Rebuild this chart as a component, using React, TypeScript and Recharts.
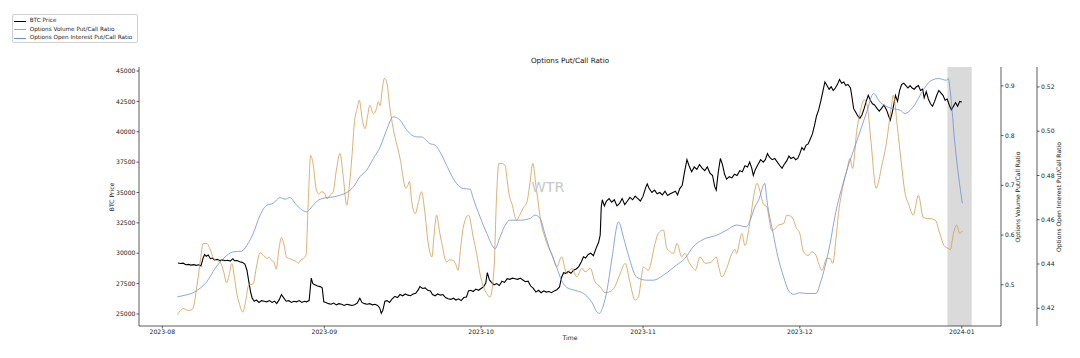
import React from "react";
import { ComposedChart, Line, XAxis, YAxis, ReferenceArea } from "recharts";

// x positions are days after 2023-08-01
const START = Date.UTC(2023, 7, 1);
const DAY = 86400000;

const monthTicks = ["2023-08", "2023-09", "2023-10", "2023-11", "2023-12", "2024-01"];
const monthDays = [0, 31, 61, 92, 122, 153];

const btcTicks = [25000, 27500, 30000, 32500, 35000, 37500, 40000, 42500, 45000];
const volTicks = [0.5, 0.6, 0.7, 0.8, 0.9];
const oiTicks = [0.42, 0.44, 0.46, 0.48, 0.5, 0.52];

const shadeDays = [150.24, 154.9];

const btcDay = [
  3.0, 3.5, 4.0, 4.5, 5.0, 5.5, 6.0, 6.5, 7.0, 7.4, 7.8, 8.1, 8.4, 8.8, 9.2, 9.6, 10.0, 10.5, 11.0, 11.5,
  12.0, 12.5, 13.0, 13.5, 13.8, 14.3, 14.8, 15.3, 15.8, 16.2, 16.5, 16.9, 17.2, 17.6, 18.0, 18.5, 19.0, 19.5,
  20.0, 20.5, 21.0, 21.5, 21.9, 22.4, 22.8, 23.2, 23.7, 24.2, 24.7, 25.2, 25.7, 26.2, 26.7, 27.2, 27.6, 28.1,
  28.5, 28.8, 29.2, 29.7, 30.2, 30.6, 30.9, 31.3, 31.8, 32.3, 32.8, 33.3, 33.8, 34.3, 34.8, 35.3, 35.8, 36.3,
  36.8, 37.3, 37.8, 38.2, 38.7, 39.2, 39.7, 40.2, 40.7, 41.2, 41.6, 41.9, 42.2, 42.6, 43.0, 43.5, 44.0, 44.5,
  45.0, 45.5, 46.0, 46.5, 47.0, 47.5, 48.0, 48.5, 49.0, 49.3, 49.8, 50.3, 50.8, 51.3, 51.7, 52.2, 52.7, 53.2,
  53.7, 54.2, 54.7, 55.2, 55.7, 56.2, 56.7, 57.2, 57.7, 58.2, 58.6, 59.0, 59.5, 60.0, 60.5, 61.0, 61.5, 61.9,
  62.2, 62.6, 63.0, 63.5, 64.0, 64.5, 65.0, 65.5, 66.0, 66.5, 67.0, 67.5, 68.0, 68.5, 69.0, 69.5, 70.0, 70.5,
  71.0, 71.5, 72.0, 72.5, 73.0, 73.5, 74.0, 74.5, 75.0, 75.5, 76.0, 76.4, 76.8, 77.2, 77.7, 78.2, 78.7, 79.2,
  79.7, 80.2, 80.6, 81.0, 81.5, 82.0, 82.5, 83.0, 83.5, 83.8, 84.0, 84.2, 84.6, 85.0, 85.5, 86.0, 86.5, 87.0,
  87.5, 88.0, 88.5, 89.0, 89.5, 90.0, 90.5, 91.0, 91.5, 92.0, 92.5, 92.8, 93.2, 93.7, 94.2, 94.7, 95.2, 95.7,
  96.2, 96.7, 97.2, 97.7, 98.2, 98.6, 99.0, 99.5, 99.9, 100.4, 100.8, 101.3, 101.8, 102.3, 102.8, 103.3, 103.8,
  104.3, 104.8, 105.3, 105.7, 106.0, 106.4, 106.8, 107.2, 107.6, 108.0, 108.5, 109.0, 109.5, 110.0, 110.5,
  111.0, 111.5, 112.0, 112.4, 112.8, 113.1, 113.5, 114.0, 114.5, 115.0, 115.4, 115.8, 116.2, 116.7, 117.2,
  117.7, 118.2, 118.6, 119.0, 119.5, 119.9, 120.3, 120.8, 121.2, 121.6, 122.0, 122.4, 122.8, 123.2, 123.6,
  124.0, 124.4, 124.8, 125.2, 125.6, 126.0, 126.4, 126.8, 127.2, 127.6, 128.0, 128.4, 128.8, 129.2, 129.6,
  130.0, 130.4, 130.8, 131.2, 131.7, 132.0, 132.3, 132.7, 133.1, 133.5, 133.9, 134.3, 134.7, 135.1, 135.5,
  135.9, 136.3, 136.8, 137.2, 137.6, 138.1, 138.6, 139.0, 139.3, 139.7, 140.0, 140.3, 140.7, 141.1, 141.5,
  141.9, 142.3, 142.7, 143.1, 143.5, 143.9, 144.3, 144.7, 145.1, 145.5, 145.8, 146.2, 146.6, 147.0, 147.4,
  147.8, 148.2, 148.6, 149.0, 149.4, 149.8, 150.2, 150.6, 151.0, 151.4, 151.8, 152.2, 152.6, 153.0,
];
const btcPrice = [
  29200, 29150, 29180, 29050, 29080, 29020, 29060, 29000, 29050, 28950, 29600, 29900, 29750, 29850, 29550, 29600, 29450, 29500, 29400, 29450,
  29380, 29420, 29350, 29550, 29380, 29400, 29300, 29250, 29100, 28600, 27800, 26800, 26300, 26050, 26150, 25950, 26100, 26050,
  26000, 26100, 25950, 26050, 25850, 26200, 26600, 26350, 26050, 26100, 25950, 26050, 26000, 26100, 25950, 26050, 26000, 26100,
  27950, 27500, 27400, 27300, 27250, 27150, 26000, 25950, 25850, 25800, 25900, 25750, 25850, 25800, 25700, 25800, 25750, 25700,
  25750, 25900, 26300, 25950, 25850, 25800, 25850, 25750, 25800, 25700, 25500, 25050, 25300, 26050, 26100, 25950, 26250, 26450,
  26350, 26600, 26500, 26650, 26550, 26500, 26650, 26700, 27000, 27250, 27100, 27150, 26950, 26900, 26600, 26500, 26650, 26550,
  26600, 26350, 26250, 26200, 26300, 26150, 26250, 26100, 26350, 26400, 26900, 26950, 26850, 27050, 26950, 27100, 27250, 27550,
  28400, 27800, 27600, 27400, 27500, 27350, 27700, 27600, 27900, 27850, 27950, 27900, 27850, 27950, 27800, 27650, 27700, 27300,
  27100, 26800, 26950, 26750, 26900, 26800, 26850, 26750, 26900, 27000, 27200, 28000, 28400, 28350, 28500, 28350, 28600, 28700,
  28900, 29300, 29700, 29600, 29900, 30000, 29800, 30400, 30900, 31500, 33800, 34400, 33900, 34300, 34500, 34200, 34400, 33900,
  34100, 34500, 34000, 34300, 34600, 34400, 34700, 34500, 34300, 34700, 35400, 35700, 35300, 35000, 35200, 34900, 35000, 34800,
  35100, 34750, 34900, 35000, 35100, 34800, 35300, 35600, 36600, 37700, 37200, 36700, 37100, 36900, 37300, 37000, 36800,
  37100, 36600, 36400, 35500, 35200, 36700, 37800, 37300, 36500, 36100, 36300, 36200, 36500, 36400, 36800,
  36700, 37200, 37100, 37500, 37000, 36400, 36900, 37300, 37700, 37500, 37700, 38200, 37900, 37700, 37800,
  37500, 37200, 37000, 37300, 37600, 38000, 37800, 37900, 37700, 37800, 38200, 38700, 38500, 38900, 39000,
  39400, 39800, 40500, 41300, 41800, 42500, 43300, 44100, 43800, 43500, 43700, 43400, 43600, 43900, 44300,
  44000, 44100, 43800, 43900, 43600, 42800, 41900, 41600, 41300, 41100, 41400, 41900, 42500, 43000, 42600,
  42300, 42200, 41900, 41700, 41900, 42200, 41800, 41300, 40950, 41600, 42300, 43000, 42500, 43400, 43900,
  44000, 43800, 43600, 43800, 43600, 43500, 43700, 43800, 43400, 43500, 42800, 43300, 42700, 42300, 42100,
  42500, 43000, 43400, 43200, 43000, 42600, 42700, 42200, 41800, 42100, 42400, 42100, 42500, 42450,
];

const volDay = [
  2.9, 4.0, 5.0, 5.8, 6.6, 7.3, 7.8, 8.5, 9.2, 9.8, 10.5, 11.0, 11.7, 12.3, 12.8, 13.3, 13.8, 14.2, 14.8, 15.4,
  16.0, 16.5, 17.4, 18.0, 18.7, 19.3, 20.0, 20.5, 20.9, 21.4, 21.8, 22.3, 22.8, 23.3, 23.8, 24.5, 25.1, 25.6,
  26.0, 26.5, 27.0, 27.5, 27.9, 28.4, 28.9, 29.4, 29.9, 30.5, 31.0, 31.5, 32.1, 32.7, 33.3, 34.0, 34.6, 35.3,
  35.8, 36.3, 36.8, 37.3, 37.7, 38.3, 38.8, 39.3, 39.7, 40.4, 41.0, 41.3, 41.7, 42.0, 42.5, 43.0, 43.5, 44.2,
  45.5, 46.6, 47.0, 47.3, 47.7, 48.4, 49.0, 49.6, 50.2, 50.8, 51.6, 52.0, 52.5, 53.0, 53.5, 54.4, 55.0, 55.7,
  56.2, 56.6, 57.1, 57.6, 58.6, 59.5, 60.2, 60.8, 61.5, 62.1, 62.7, 63.5, 63.9, 64.4, 64.9, 65.6, 66.0,
  66.4, 66.9, 67.8, 68.4, 69.1, 69.8, 70.3, 70.9, 71.5, 72.0, 72.3, 73.2, 73.9, 74.5, 75.5, 76.4, 77.4, 78.4,
  79.3, 80.3, 80.9, 81.9, 82.8, 83.8, 84.7, 85.7, 86.6, 87.6, 88.6, 89.4, 90.5, 91.1, 92.1, 93.0, 94.3, 94.9,
  95.9, 96.5, 97.2, 97.8, 98.5, 99.4, 100.0, 100.8, 101.6, 102.0, 102.9, 103.9, 105.1, 106.0, 106.5, 107.1,
  108.0, 109.0, 109.6, 109.9, 110.9, 111.5, 112.5, 113.2, 113.8, 114.4, 115.0, 115.7, 116.6, 116.9, 117.9,
  118.9, 119.5, 120.5, 121.4, 122.0, 122.7, 123.6, 124.3, 125.1, 125.7, 126.2, 127.2, 127.8, 128.3, 128.9,
  129.4, 130.3, 131.0, 131.6, 132.1, 132.9, 133.6, 134.3, 134.9, 135.6, 136.6, 137.7, 138.6, 139.4, 139.9,
  140.7, 141.4, 142.1, 142.9, 143.7, 144.7, 145.6, 146.4, 146.9, 147.9, 148.8, 149.6, 150.4, 150.8, 151.4,
  152.0, 152.6, 153.1,
];
const volRatio = [
  0.44, 0.452, 0.448, 0.451, 0.496, 0.55, 0.583, 0.583, 0.57, 0.553, 0.548, 0.546, 0.528, 0.504, 0.52, 0.543, 0.515, 0.486, 0.46, 0.445,
  0.47, 0.499, 0.502, 0.535, 0.564, 0.56, 0.553, 0.555, 0.549, 0.545, 0.531, 0.57, 0.595, 0.58, 0.555, 0.552, 0.549, 0.547,
  0.543, 0.55, 0.553, 0.56, 0.66, 0.76, 0.74, 0.695, 0.683, 0.687, 0.685, 0.673, 0.68, 0.687, 0.73, 0.764, 0.72, 0.66,
  0.7, 0.76, 0.83, 0.855, 0.871, 0.83, 0.814, 0.84, 0.861, 0.844, 0.855, 0.868, 0.86, 0.885, 0.915, 0.905, 0.86, 0.814,
  0.754, 0.694, 0.7, 0.708, 0.67, 0.643, 0.665, 0.687, 0.65, 0.59, 0.556, 0.6, 0.64, 0.61, 0.583, 0.546, 0.55, 0.549,
  0.54, 0.529, 0.575, 0.616, 0.64, 0.596, 0.56, 0.522, 0.495, 0.482, 0.475, 0.536, 0.66, 0.744, 0.744, 0.74, 0.71,
  0.68, 0.663, 0.63, 0.64, 0.655, 0.667, 0.7, 0.744, 0.7, 0.66, 0.636, 0.596, 0.575, 0.563, 0.536, 0.556, 0.522, 0.533,
  0.516, 0.533, 0.526, 0.533, 0.506, 0.496, 0.484, 0.486, 0.496, 0.522, 0.543, 0.509, 0.469, 0.475, 0.536, 0.529, 0.583, 0.603,
  0.61, 0.575, 0.566, 0.563, 0.583, 0.556, 0.563, 0.545, 0.533, 0.529, 0.556, 0.543, 0.546, 0.556, 0.535, 0.516,
  0.533, 0.563, 0.571, 0.563, 0.603, 0.579, 0.63, 0.68, 0.704, 0.687, 0.663, 0.656, 0.61, 0.61, 0.62,
  0.623, 0.64, 0.636, 0.613, 0.603, 0.566, 0.559, 0.566, 0.559, 0.54, 0.529, 0.553, 0.553, 0.543, 0.59,
  0.643, 0.7, 0.73, 0.754, 0.734, 0.81, 0.85, 0.872, 0.86, 0.79, 0.694, 0.74, 0.787, 0.85, 0.881,
  0.814, 0.747, 0.687, 0.66, 0.64, 0.68, 0.636, 0.633, 0.633, 0.63, 0.603, 0.579, 0.573, 0.571, 0.603,
  0.62, 0.603, 0.608,
];

const oiDay = [
  2.9, 4.5, 5.9, 7.2, 8.5, 10.1, 11.7, 13.6, 15.2, 16.2, 17.4, 18.7, 20.0, 21.2, 22.5, 23.5, 24.4, 25.7, 27.6,
  28.9, 29.9, 31.5, 32.7, 34.0, 35.3, 36.6, 37.8, 39.1, 40.4, 41.7, 42.9, 44.2, 45.5, 46.8, 48.7, 49.6, 51.2,
  52.2, 53.3, 54.4, 56.3, 57.6, 58.9, 59.5, 60.8, 62.1, 63.7, 64.6, 65.5, 66.5, 68.5, 70.4, 71.3, 72.3, 73.2,
  74.2, 75.2, 76.4, 77.4, 79.3, 80.6, 81.9, 82.5, 83.1, 83.6, 84.3, 85.1, 86.0, 87.3, 88.3, 89.2, 90.8, 92.7,
  94.0, 95.9, 98.4, 100.0, 101.6, 103.5, 106.1, 108.0, 109.9, 111.8, 112.5, 113.4, 114.1, 115.3, 115.7, 116.9,
  117.8, 118.9, 119.8, 120.8, 122.0, 123.3, 125.1, 125.9, 126.8, 127.8, 128.7, 129.4, 130.0, 131.3, 132.2,
  133.5, 134.8, 136.1, 137.4, 139.3, 141.2, 142.1, 143.7, 145.6, 146.9, 148.5, 150.1, 150.4, 150.8, 151.7, 153.1,
];
const oiRatio = [
  0.4252, 0.426, 0.427, 0.429, 0.432, 0.438, 0.4425, 0.4455, 0.4458, 0.4485, 0.4538, 0.462, 0.4666, 0.4674, 0.47, 0.4693, 0.47, 0.4666, 0.4636,
  0.4666, 0.4689, 0.47, 0.4703, 0.4711, 0.4723, 0.4749, 0.4794, 0.4824, 0.4877, 0.4929, 0.5004, 0.5065, 0.505, 0.5004, 0.4974, 0.4974, 0.4944,
  0.4937, 0.49, 0.4846, 0.4764, 0.4741, 0.4738, 0.4696, 0.4613, 0.4538, 0.447, 0.452, 0.457, 0.4598, 0.4598, 0.4606, 0.4621, 0.4606, 0.4538,
  0.4463, 0.4403, 0.4327, 0.4294, 0.4279, 0.4267, 0.4237, 0.4215, 0.4185, 0.4177, 0.4205, 0.4282, 0.4418, 0.459, 0.4516, 0.444, 0.434, 0.4327,
  0.4327, 0.435, 0.4395, 0.4425, 0.4478, 0.4511, 0.453, 0.4553, 0.4576, 0.4568, 0.4598, 0.4658, 0.4688, 0.4764, 0.4688, 0.4538,
  0.4433, 0.4342, 0.4282, 0.4263, 0.427, 0.4267, 0.4267, 0.4312, 0.4387, 0.4493, 0.4613, 0.4688, 0.4741, 0.4846, 0.4907,
  0.4997, 0.5087, 0.517, 0.513, 0.5105, 0.5095, 0.508, 0.511, 0.5185, 0.5225, 0.5238, 0.523, 0.5238, 0.5177, 0.4937, 0.4674,
];

const toPoints = (days: number[], vals: number[]) =>
  days.map((d, i) => ({ t: START + d * DAY, v: vals[i] }));

const btcData = toPoints(btcDay, btcPrice);
const volData = toPoints(volDay, volRatio);
const oiData = toPoints(oiDay, oiRatio);

const X_DOMAIN = [START - 4.46 * DAY, START + 160.5 * DAY];
const FONT = "'DejaVu Sans', sans-serif";
const ORANGE = "#d39c4f";
const BLUE = "#6d8fd8";
const tickStyle = { fontSize: 6.1, fill: "#222", fontFamily: FONT };
const axisStroke = "#333";

const legendItems = [
  { name: "BTC Price", color: "#000" },
  { name: "Options Volume Put/Call Ratio", color: ORANGE },
  { name: "Options Open Interest Put/Call Ratio", color: BLUE },
];

function Rotated({ x, y, text }: { x: number; y: number; text: string }) {
  return (
    <div
      style={{
        position: "absolute",
        left: x,
        top: y,
        transform: "translate(-50%, -50%) rotate(-90deg)",
        whiteSpace: "nowrap",
        fontSize: 6.1,
        color: "#222",
        fontFamily: FONT,
        lineHeight: 1,
      }}
    >
      {text}
    </div>
  );
}

export default function App() {
  const monthTs = monthDays.map((d) => START + d * DAY);
  return (
    <div style={{ position: "absolute", left: 0, top: 0, width: 1080, height: 358, background: "#fff", fontFamily: FONT }}>
      <ComposedChart width={1080} height={358} margin={{ top: 67, right: 0, bottom: 12, left: 0 }}>
        <XAxis
          xAxisId="bottom"
          dataKey="t"
          type="number"
          domain={X_DOMAIN}
          allowDataOverflow
          ticks={monthTs}
          tickFormatter={(v: number) => monthTicks[monthDays.indexOf(Math.round((v - START) / DAY))]}
          tick={tickStyle}
          tickSize={2.5}
          tickMargin={1}
          height={20}
          stroke={axisStroke}
          strokeWidth={0.8}
        />
        <XAxis
          xAxisId="top"
          orientation="top"
          dataKey="t"
          type="number"
          domain={X_DOMAIN}
          allowDataOverflow
          ticks={monthTs}
          tickFormatter={() => ""}
          tickSize={1.5}
          height={0}
          stroke={axisStroke}
          strokeWidth={0.8}
        />
        <YAxis
          yAxisId="btc"
          orientation="left"
          width={139}
          domain={[24010, 45330]}
          allowDataOverflow
          ticks={btcTicks}
          tick={tickStyle}
          tickSize={2.5}
          tickMargin={1}
          stroke={axisStroke}
          strokeWidth={0.8}
        />
        <YAxis
          yAxisId="r1vol"
          orientation="right"
          width={36}
          domain={[0.417, 0.938]}
          allowDataOverflow
          ticks={volTicks}
          tickFormatter={(v: number) => v.toFixed(1)}
          tick={tickStyle}
          tickSize={2.5}
          tickMargin={1.5}
          stroke={axisStroke}
          strokeWidth={0.8}
        />
        <YAxis
          yAxisId="r2oi"
          orientation="right"
          width={43}
          domain={[0.412, 0.529]}
          allowDataOverflow
          ticks={oiTicks}
          tickFormatter={(v: number) => v.toFixed(2)}
          tick={tickStyle}
          tickSize={2.5}
          tickMargin={1.5}
          stroke={axisStroke}
          strokeWidth={0.8}
        />
        <ReferenceArea
          xAxisId="bottom"
          yAxisId="btc"
          x1={START + shadeDays[0] * DAY}
          x2={START + shadeDays[1] * DAY}
          fill="#d4d4d4"
          fillOpacity={0.85}
          stroke="none"
        />
        <Line
          data={btcData}
          dataKey="v"
          xAxisId="bottom"
          yAxisId="btc"
          type="linear"
          stroke="#000"
          strokeWidth={1.1}
          dot={false}
          isAnimationActive={false}
        />
        <Line
          data={volData}
          dataKey="v"
          xAxisId="bottom"
          yAxisId="r1vol"
          type="monotone"
          stroke={ORANGE}
          strokeWidth={0.8}
          dot={false}
          isAnimationActive={false}
        />
        <Line
          data={oiData}
          dataKey="v"
          xAxisId="bottom"
          yAxisId="r2oi"
          type="monotone"
          stroke={BLUE}
          strokeWidth={0.8}
          dot={false}
          isAnimationActive={false}
        />
      </ComposedChart>

      {/* title, axis labels, watermark */}
      <div style={{ position: "absolute", left: 570, top: 61, transform: "translate(-50%, -50%)", fontSize: 7.2, color: "#111", whiteSpace: "nowrap", lineHeight: 1 }}>
        Options Put/Call Ratio
      </div>
      <div style={{ position: "absolute", left: 570, top: 338, transform: "translate(-50%, -50%)", fontSize: 6.1, color: "#222", lineHeight: 1 }}>
        Time
      </div>
      <div style={{ position: "absolute", left: 548, top: 187, transform: "translate(-50%, -50%)", fontSize: 14.4, color: "#c8c8c8", lineHeight: 1 }}>
        WTR
      </div>
      <Rotated x={111.5} y={196.5} text="BTC Price" />
      <Rotated x={1018.3} y={196.5} text="Options Volume Put/Call Ratio" />
      <Rotated x={1058.5} y={196.5} text="Options Open Interest Put/Call Ratio" />

      {/* legend */}
      <div
        style={{
          position: "absolute",
          left: 11.5,
          top: 14,
          width: 126.5,
          height: 29,
          border: "1px solid #d0d0d0",
          borderRadius: 2,
          boxSizing: "border-box",
          background: "#fff",
        }}
      >
        {legendItems.map((item, i) => (
          <div
            key={item.name}
            style={{ position: "absolute", left: 1.5, top: 6 + i * 8.6 - 3.5, height: 7, display: "flex", alignItems: "center", whiteSpace: "nowrap" }}
          >
            <span style={{ display: "inline-block", width: 11.7, height: 1, background: item.color, marginRight: 4 }} />
            <span style={{ fontSize: 5.7, color: "#222", lineHeight: 1 }}>{item.name}</span>
          </div>
        ))}
      </div>
    </div>
  );
}
